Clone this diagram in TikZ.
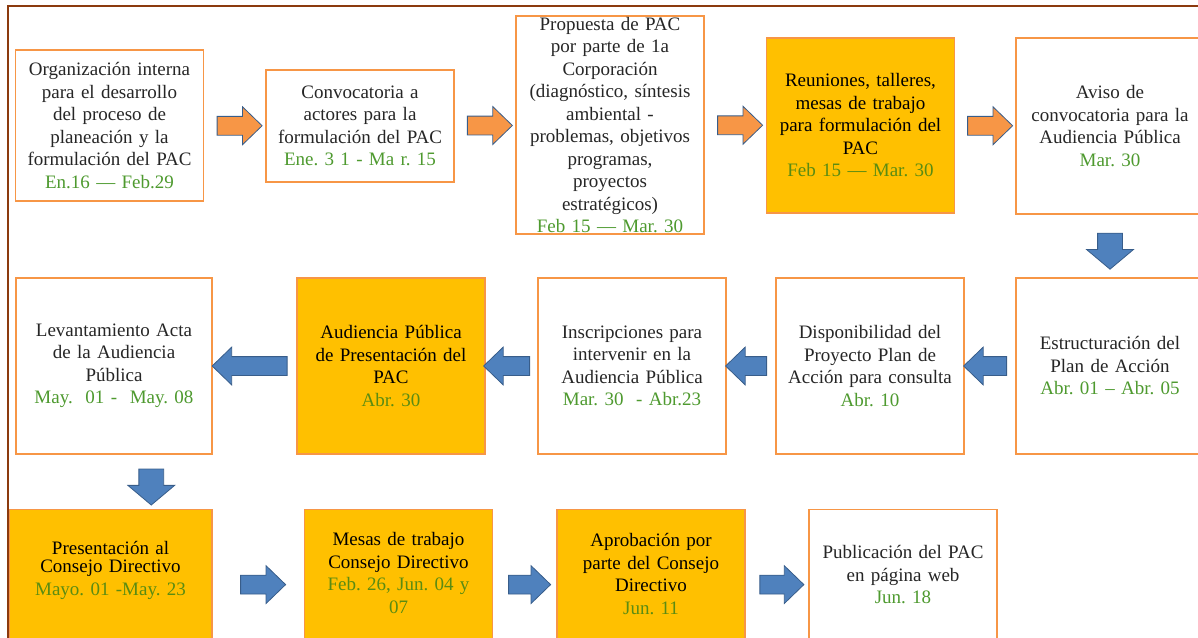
\documentclass[tikz,border=0pt]{standalone}
\usepackage{fontspec}
\setmainfont{Liberation Serif}
\usepackage{tikz}
\usetikzlibrary{
    shapes.arrows,
    positioning,
    calc,
}
\usepackage{xcolor}
\definecolor{boxedge}{HTML}{F79646}
\definecolor{boxfill}{HTML}{FFC000}
\definecolor{arrorange}{HTML}{F79646}
\definecolor{arrblue}{HTML}{4F81BD}
\definecolor{arredge}{HTML}{385D8A}
\definecolor{fechagreen}{HTML}{4E9A2F}
\definecolor{fechaolive}{HTML}{5A8C12}
\definecolor{framebrown}{HTML}{8B3A0E}
\definecolor{txtgray}{HTML}{262626}
\newcommand{\Fecha}[1]{\textcolor{fechagreen}{#1}}
\newcommand{\FechaY}[1]{\textcolor{fechaolive}{#1}}
\frenchspacing

\begin{document}
\begin{tikzpicture}[
    x=1pt, y=-1pt,
    paso/.style  = {rectangle, draw=boxedge, line width=1.2pt, fill=white,
                    inner sep=0pt, align=center, text=txtgray,
                    font=\fontsize{19}{22.5}\selectfont,
                    minimum width=188pt, text width=182pt},
    pasoy/.style = {paso, fill=boxfill, text=black},
    ptxt/.style  = {inner sep=0pt, align=center, text=black,
                    font=\fontsize{19}{22.5}\selectfont, text width=182pt},
    arrbase/.style = {single arrow, draw=arredge, line width=0.8pt,
                      inner xsep=0pt, inner ysep=9pt,
                      single arrow head extend=9.5pt,
                      single arrow tip angle=88, minimum height=45pt},
    orarrow/.style = {arrbase, fill=arrorange},
    blarrow/.style = {arrbase, fill=arrblue},
    bldown/.style  = {arrbase, fill=arrblue, inner xsep=12pt, inner ysep=0pt,
                      single arrow head extend=11pt,
                      single arrow tip angle=100,
                      minimum height=36pt, shape border rotate=270},
]
\useasboundingbox (0,0) rectangle (1198,637);

%% ── Top row ──────────────────────────────────────────────────────────────────
\node[paso, minimum height=151pt] (b1) at (109.5,125.5)
  {Organización interna\\para el desarrollo\\del proceso de\\planeación y la\\formulación del PAC\\\Fecha{En.16 — Feb.29}};
\node[paso, minimum height=112pt] (b2) at (360,126)
  {Convocatoria a\\actores para la\\formulación del PAC\\\Fecha{Ene. 3 1 - Ma r. 15}};
\node[paso, minimum height=218pt] (b3) at (610,125)
  {Propuesta de PAC\\por parte de 1a\\Corporación\\(diagnóstico, síntesis\\ambiental -\\problemas, objetivos\\programas,\\proyectos\\estratégicos)\\\Fecha{Feb 15 — Mar. 30}};
\node[pasoy, minimum height=175pt] (b4) at (860.5,125.5)
  {Reuniones, talleres,\\mesas de trabajo\\para formulación del\\PAC\\\FechaY{Feb 15 — Mar. 30}};
\node[paso, minimum height=176pt] (b5) at (1110,126)
  {Aviso de\\convocatoria para la\\Audiencia Pública\\\Fecha{Mar. 30}};

%% ── Middle row ───────────────────────────────────────────────────────────────
\node[paso, minimum height=176pt] (m5) at (1110,366)
  {Estructuración del\\Plan de Acción\\\Fecha{Abr. 01 – Abr. 05}};
\node[paso, minimum height=176pt] (m4) at (870,366)
  {Disponibilidad del\\Proyecto Plan de\\Acción para consulta\\\Fecha{Abr. 10}};
\node[paso, minimum height=176pt] (m3) at (632,366)
  {Inscripciones para\\intervenir en la\\Audiencia Pública\\\Fecha{Mar. 30 \ - Abr.23}};
\node[pasoy, minimum height=176pt] (m2) at (391,366)
  {Audiencia Pública\\de Presentación del\\PAC\\\FechaY{Abr. 30}};
\node[paso, minimum height=176pt, minimum width=196pt] (m1) at (114,366)
  {Levantamiento Acta\\de la Audiencia\\Pública\\\Fecha{May. \ 01 - \ May. 08}};

%% ── Bottom row ───────────────────────────────────────────────────────────────
\node[pasoy, minimum height=150pt, minimum width=203pt, anchor=north] (l1) at (110.5,509) {};
\node[pasoy, minimum height=150pt, anchor=north] (l2) at (398.5,509) {};
\node[pasoy, minimum height=150pt, anchor=north] (l3) at (651,509) {};
\node[paso,  minimum height=150pt, anchor=north] (l4) at (903,509) {};

\node[ptxt] (t1) at ([yshift=-61pt]l1.north)
  {Presentación al\\[-4pt]Consejo Directivo\\\FechaY{Mayo. 01 -May. 23}};
\node[ptxt] (t2) at ([yshift=-64pt]l2.north)
  {Mesas de trabajo\\Consejo Directivo\\\FechaY{Feb. 26, Jun. 04 y}\\\FechaY{07}};
\node[ptxt] (t3) at ([yshift=-65pt]l3.north)
  {Aprobación por\\parte del Consejo\\Directivo\\\FechaY{Jun. 11}};
\node[ptxt, text=txtgray] (t4) at ([yshift=-66pt]l4.north)
  {Publicación del PAC\\en página web\\\Fecha{Jun. 18}};

%% ── Block arrows ─────────────────────────────────────────────────────────────
\node[orarrow] (a12) at ($(b1.east)!0.5!(b2.west)$) {};
\node[orarrow] (a23) at ($(b2.east)!0.5!(b3.west)$ |- a12) {};
\node[orarrow] (a34) at ($(b3.east)!0.5!(b4.west)$ |- a12) {};
\node[orarrow] (a45) at ($(b4.east)!0.5!(b5.west)$ |- a12) {};

\node[bldown] (d5) at ($(b5.south)!0.5!(m5.north)$) {};

\node[blarrow, shape border rotate=180, minimum height=43pt] (a54) at ($(m5.west)!0.5!(m4.east)$) {};
\node[blarrow, shape border rotate=180, minimum height=41pt] (a43) at ($(m4.west)!0.5!(m3.east)$) {};
\node[blarrow, shape border rotate=180, minimum height=46pt] (a32) at ($(m3.west)!0.5!(m2.east)$) {};
\node[blarrow, shape border rotate=180, minimum height=75pt] (a21) at ($(m2.west)!0.5!(m1.east)$) {};

\node[bldown, xshift=39pt] (d1) at ($(m1.south)!0.5!(l1.north)$) {};

\node[blarrow] (c12) at ($(l1.east)!0.5!(l2.west)$ |- t1) {};
\node[blarrow, minimum height=42pt] (c23) at ($(l2.east)!0.5!(l3.west)$ |- t1) {};
\node[blarrow, minimum height=44pt] (c34) at ($(l3.east)!0.5!(l4.west)$ |- t1) {};

%% ── Frame ────────────────────────────────────────────────────────────────────
\draw[framebrown, line width=2.5pt] (8,640) -- (8,6) -- (1200,6);

\end{tikzpicture}
\end{document}
